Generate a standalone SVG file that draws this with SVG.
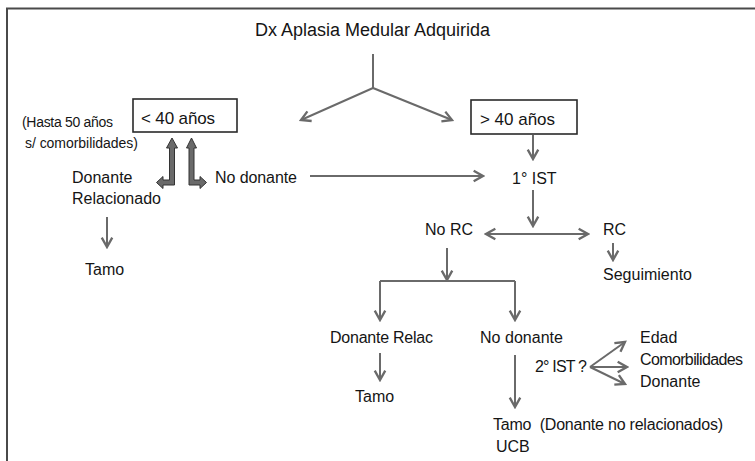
<svg xmlns="http://www.w3.org/2000/svg" width="755" height="461" viewBox="0 0 755 461">
<style>
text{font-family:"Liberation Sans",Arial,sans-serif;fill:#151515;white-space:pre}
.t18{font-size:18px}.t17{font-size:17px}.t16{font-size:16px}.t13{font-size:14px}
.c{fill:none;stroke:#6a6a6a;stroke-width:2}
.a{marker-end:url(#ah)}
.box{fill:#fff;stroke:#2a2a2a;stroke-width:1.6}
.blk{fill:#6a6a6a;stroke:#333;stroke-width:1}
</style>
<defs>
<marker id="ah" markerUnits="userSpaceOnUse" markerWidth="14" markerHeight="14" refX="9" refY="5" orient="auto-start-reverse" viewBox="-1 -1 12 12">
<path d="M1,0.5 L9,5 L1,9.5" fill="none" stroke="#6a6a6a" stroke-width="2"/>
</marker>
</defs>
<rect width="755" height="461" fill="#fff"/>
<path d="M7,461 V8.5 H755" fill="none" stroke="#4a4a4a" stroke-width="2"/>

<g id="connectors">
<path class="c" d="M373,54 V88"/>
<path class="c a" d="M373,88 L301,120"/>
<path class="c a" d="M373,88 L452,120"/>
<path class="c a" d="M533,135 V159"/>
<path class="c a" d="M533,190 V226"/>
<path class="c a" d="M310,176 H483"/>
<path class="c a" d="M107,217 V247"/>
<path class="c a" d="M486,234 H588" marker-start="url(#ah)"/>
<path class="c a" d="M613,243 V260"/>
<path class="c a" d="M447,248 V280"/>
<path class="c" d="M380,281 H515"/>
<path class="c a" d="M380,281 V320"/>
<path class="c a" d="M515,281 V320"/>
<path class="c a" d="M380,353 V380"/>
<path class="c a" d="M515,355 V407"/>
<path class="c a" d="M590,367 L625,342"/>
<path class="c a" d="M590,367 L627,367"/>
<path class="c a" d="M590,367 L625,384"/>
<polygon class="blk" points="172,138 177.5,148 174.5,148 174.5,185 163,185 163,188.5 156.5,182.5 163,176.5 163,180 169.5,180 169.5,148 166.5,148"/>
<polygon class="blk" points="191.5,138 196.5,148 194,148 194,180 200,180 200,176.5 206.5,182.5 200,188.5 200,185 189,185 189,148 186.5,148"/>
</g>

<g id="title"><text class="t18" x="255" y="36" textLength="235">Dx Aplasia Medular Adquirida</text></g>
<g id="menor40">
<rect class="box" x="133" y="99" width="104" height="33"/>
<text class="t17" x="141" y="124" textLength="74">&lt; 40 años</text>
</g>
<g id="mayor40">
<rect class="box" x="471" y="100" width="106" height="34"/>
<text class="t17" x="480" y="125" textLength="75">&gt; 40 años</text>
</g>
<g id="hasta50">
<text class="t13" x="22" y="127" textLength="91">(Hasta 50 años</text>
<text class="t13" x="25" y="148" textLength="113">s/ comorbilidades)</text>
</g>
<g id="donanteRel">
<text class="t16" x="72" y="183">Donante</text>
<text class="t16" x="72" y="204">Relacionado</text>
</g>
<g id="noDonante1"><text class="t16" x="215" y="183" textLength="82">No donante</text></g>
<g id="tamo1"><text class="t16" x="85" y="275">Tamo</text></g>
<g id="ist1"><text class="t16" x="512" y="184">1° IST</text></g>
<g id="noRC"><text class="t16" x="425" y="235">No RC</text></g>
<g id="rc"><text class="t16" x="603" y="235">RC</text></g>
<g id="seguimiento"><text class="t16" x="603" y="280" textLength="89">Seguimiento</text></g>
<g id="donanteRelac"><text class="t16" x="330" y="343" textLength="103">Donante Relac</text></g>
<g id="noDonante2"><text class="t16" x="480" y="343" textLength="83">No donante</text></g>
<g id="tamo2"><text class="t16" x="355" y="402">Tamo</text></g>
<g id="ist2"><text class="t16" x="535" y="372" textLength="52">2° IST ?</text></g>
<g id="criterios">
<text class="t16" x="640" y="343">Edad</text>
<text class="t16" x="640" y="365" textLength="103">Comorbilidades</text>
<text class="t16" x="640" y="387">Donante</text>
</g>
<g id="tamo3">
<text class="t16" x="493" y="430" textLength="230">Tamo  (Donante no relacionados)</text>
<text class="t16" x="496" y="452">UCB</text>
</g>
</svg>
